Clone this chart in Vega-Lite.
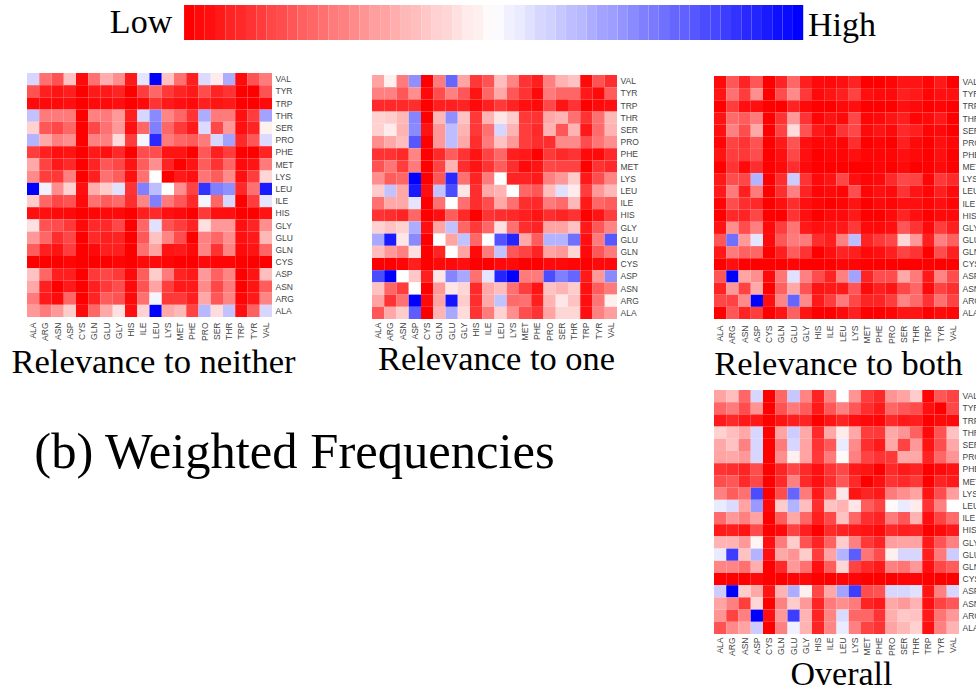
{"$schema":"https://vega.github.io/schema/vega-lite/v6.json","padding":{"left":10,"top":5,"right":0,"bottom":0},"background":"white","config":{"view":{"stroke":null},"axis":{"grid":false}},"datasets":{"a":[
{"x":"ALA","y":"VAL","v":58},{"x":"ARG","y":"VAL","v":22},{"x":"ASN","y":"VAL","v":16},{"x":"ASP","y":"VAL","v":38},{"x":"CYS","y":"VAL","v":2},{"x":"GLN","y":"VAL","v":22},{"x":"GLU","y":"VAL","v":34},{"x":"GLY","y":"VAL","v":28},{"x":"HIS","y":"VAL","v":5},{"x":"ILE","y":"VAL","v":55},{"x":"LEU","y":"VAL","v":100},{"x":"LYS","y":"VAL","v":38},{"x":"MET","y":"VAL","v":22},{"x":"PHE","y":"VAL","v":6},{"x":"PRO","y":"VAL","v":57},{"x":"SER","y":"VAL","v":46},{"x":"THR","y":"VAL","v":66},{"x":"TRP","y":"VAL","v":2},{"x":"TYR","y":"VAL","v":16},{"x":"VAL","y":"VAL","v":24},
{"x":"ALA","y":"TYR","v":16},{"x":"ARG","y":"TYR","v":6},{"x":"ASN","y":"TYR","v":4},{"x":"ASP","y":"TYR","v":6},{"x":"CYS","y":"TYR","v":0},{"x":"GLN","y":"TYR","v":5},{"x":"GLU","y":"TYR","v":5},{"x":"GLY","y":"TYR","v":7},{"x":"HIS","y":"TYR","v":0},{"x":"ILE","y":"TYR","v":12},{"x":"LEU","y":"TYR","v":20},{"x":"LYS","y":"TYR","v":11},{"x":"MET","y":"TYR","v":7},{"x":"PHE","y":"TYR","v":5},{"x":"PRO","y":"TYR","v":15},{"x":"SER","y":"TYR","v":7},{"x":"THR","y":"TYR","v":10},{"x":"TRP","y":"TYR","v":0},{"x":"TYR","y":"TYR","v":0},{"x":"VAL","y":"TYR","v":16},
{"x":"ALA","y":"TRP","v":2},{"x":"ARG","y":"TRP","v":2},{"x":"ASN","y":"TRP","v":2},{"x":"ASP","y":"TRP","v":3},{"x":"CYS","y":"TRP","v":0},{"x":"GLN","y":"TRP","v":2},{"x":"GLU","y":"TRP","v":2},{"x":"GLY","y":"TRP","v":3},{"x":"HIS","y":"TRP","v":0},{"x":"ILE","y":"TRP","v":2},{"x":"LEU","y":"TRP","v":10},{"x":"LYS","y":"TRP","v":5},{"x":"MET","y":"TRP","v":3},{"x":"PHE","y":"TRP","v":2},{"x":"PRO","y":"TRP","v":6},{"x":"SER","y":"TRP","v":4},{"x":"THR","y":"TRP","v":5},{"x":"TRP","y":"TRP","v":0},{"x":"TYR","y":"TRP","v":0},{"x":"VAL","y":"TRP","v":2},
{"x":"ALA","y":"THR","v":62},{"x":"ARG","y":"THR","v":24},{"x":"ASN","y":"THR","v":24},{"x":"ASP","y":"THR","v":24},{"x":"CYS","y":"THR","v":0},{"x":"GLN","y":"THR","v":25},{"x":"GLU","y":"THR","v":24},{"x":"GLY","y":"THR","v":30},{"x":"HIS","y":"THR","v":6},{"x":"ILE","y":"THR","v":58},{"x":"LEU","y":"THR","v":73},{"x":"LYS","y":"THR","v":26},{"x":"MET","y":"THR","v":20},{"x":"PHE","y":"THR","v":10},{"x":"PRO","y":"THR","v":66},{"x":"SER","y":"THR","v":24},{"x":"THR","y":"THR","v":24},{"x":"TRP","y":"THR","v":3},{"x":"TYR","y":"THR","v":12},{"x":"VAL","y":"THR","v":68},
{"x":"ALA","y":"SER","v":41},{"x":"ARG","y":"SER","v":17},{"x":"ASN","y":"SER","v":14},{"x":"ASP","y":"SER","v":20},{"x":"CYS","y":"SER","v":0},{"x":"GLN","y":"SER","v":14},{"x":"GLU","y":"SER","v":22},{"x":"GLY","y":"SER","v":30},{"x":"HIS","y":"SER","v":3},{"x":"ILE","y":"SER","v":20},{"x":"LEU","y":"SER","v":75},{"x":"LYS","y":"SER","v":20},{"x":"MET","y":"SER","v":11},{"x":"PHE","y":"SER","v":5},{"x":"PRO","y":"SER","v":57},{"x":"SER","y":"SER","v":14},{"x":"THR","y":"SER","v":30},{"x":"TRP","y":"SER","v":3},{"x":"TYR","y":"SER","v":7},{"x":"VAL","y":"SER","v":47},
{"x":"ALA","y":"PRO","v":65},{"x":"ARG","y":"PRO","v":33},{"x":"ASN","y":"PRO","v":25},{"x":"ASP","y":"PRO","v":28},{"x":"CYS","y":"PRO","v":0},{"x":"GLN","y":"PRO","v":25},{"x":"GLU","y":"PRO","v":25},{"x":"GLY","y":"PRO","v":43},{"x":"HIS","y":"PRO","v":12},{"x":"ILE","y":"PRO","v":52},{"x":"LEU","y":"PRO","v":92},{"x":"LYS","y":"PRO","v":24},{"x":"MET","y":"PRO","v":20},{"x":"PHE","y":"PRO","v":18},{"x":"PRO","y":"PRO","v":24},{"x":"SER","y":"PRO","v":58},{"x":"THR","y":"PRO","v":68},{"x":"TRP","y":"PRO","v":8},{"x":"TYR","y":"PRO","v":17},{"x":"VAL","y":"PRO","v":57},
{"x":"ALA","y":"PHE","v":12},{"x":"ARG","y":"PHE","v":6},{"x":"ASN","y":"PHE","v":3},{"x":"ASP","y":"PHE","v":4},{"x":"CYS","y":"PHE","v":0},{"x":"GLN","y":"PHE","v":5},{"x":"GLU","y":"PHE","v":3},{"x":"GLY","y":"PHE","v":8},{"x":"HIS","y":"PHE","v":0},{"x":"ILE","y":"PHE","v":15},{"x":"LEU","y":"PHE","v":15},{"x":"LYS","y":"PHE","v":4},{"x":"MET","y":"PHE","v":4},{"x":"PHE","y":"PHE","v":0},{"x":"PRO","y":"PHE","v":17},{"x":"SER","y":"PHE","v":6},{"x":"THR","y":"PHE","v":12},{"x":"TRP","y":"PHE","v":0},{"x":"TYR","y":"PHE","v":0},{"x":"VAL","y":"PHE","v":7},
{"x":"ALA","y":"MET","v":33},{"x":"ARG","y":"MET","v":13},{"x":"ASN","y":"MET","v":5},{"x":"ASP","y":"MET","v":8},{"x":"CYS","y":"MET","v":0},{"x":"GLN","y":"MET","v":7},{"x":"GLU","y":"MET","v":17},{"x":"GLY","y":"MET","v":14},{"x":"HIS","y":"MET","v":4},{"x":"ILE","y":"MET","v":18},{"x":"LEU","y":"MET","v":28},{"x":"LYS","y":"MET","v":7},{"x":"MET","y":"MET","v":0},{"x":"PHE","y":"MET","v":4},{"x":"PRO","y":"MET","v":18},{"x":"SER","y":"MET","v":10},{"x":"THR","y":"MET","v":20},{"x":"TRP","y":"MET","v":2},{"x":"TYR","y":"MET","v":4},{"x":"VAL","y":"MET","v":24},
{"x":"ALA","y":"LYS","v":27},{"x":"ARG","y":"LYS","v":12},{"x":"ASN","y":"LYS","v":11},{"x":"ASP","y":"LYS","v":25},{"x":"CYS","y":"LYS","v":0},{"x":"GLN","y":"LYS","v":6},{"x":"GLU","y":"LYS","v":22},{"x":"GLY","y":"LYS","v":18},{"x":"HIS","y":"LYS","v":3},{"x":"ILE","y":"LYS","v":22},{"x":"LEU","y":"LYS","v":50},{"x":"LYS","y":"LYS","v":0},{"x":"MET","y":"LYS","v":5},{"x":"PHE","y":"LYS","v":3},{"x":"PRO","y":"LYS","v":23},{"x":"SER","y":"LYS","v":18},{"x":"THR","y":"LYS","v":27},{"x":"TRP","y":"LYS","v":3},{"x":"TYR","y":"LYS","v":12},{"x":"VAL","y":"LYS","v":42},
{"x":"ALA","y":"LEU","v":100},{"x":"ARG","y":"LEU","v":53},{"x":"ASN","y":"LEU","v":28},{"x":"ASP","y":"LEU","v":41},{"x":"CYS","y":"LEU","v":3},{"x":"GLN","y":"LEU","v":34},{"x":"GLU","y":"LEU","v":40},{"x":"GLY","y":"LEU","v":56},{"x":"HIS","y":"LEU","v":10},{"x":"ILE","y":"LEU","v":75},{"x":"LEU","y":"LEU","v":63},{"x":"LYS","y":"LEU","v":50},{"x":"MET","y":"LEU","v":28},{"x":"PHE","y":"LEU","v":13},{"x":"PRO","y":"LEU","v":90},{"x":"SER","y":"LEU","v":75},{"x":"THR","y":"LEU","v":72},{"x":"TRP","y":"LEU","v":8},{"x":"TYR","y":"LEU","v":22},{"x":"VAL","y":"LEU","v":95},
{"x":"ALA","y":"ILE","v":40},{"x":"ARG","y":"ILE","v":20},{"x":"ASN","y":"ILE","v":14},{"x":"ASP","y":"ILE","v":16},{"x":"CYS","y":"ILE","v":2},{"x":"GLN","y":"ILE","v":22},{"x":"GLU","y":"ILE","v":18},{"x":"GLY","y":"ILE","v":21},{"x":"HIS","y":"ILE","v":9},{"x":"ILE","y":"ILE","v":26},{"x":"LEU","y":"ILE","v":75},{"x":"LYS","y":"ILE","v":24},{"x":"MET","y":"ILE","v":17},{"x":"PHE","y":"ILE","v":8},{"x":"PRO","y":"ILE","v":52},{"x":"SER","y":"ILE","v":20},{"x":"THR","y":"ILE","v":58},{"x":"TRP","y":"ILE","v":0},{"x":"TYR","y":"ILE","v":12},{"x":"VAL","y":"ILE","v":55},
{"x":"ALA","y":"HIS","v":3},{"x":"ARG","y":"HIS","v":3},{"x":"ASN","y":"HIS","v":2},{"x":"ASP","y":"HIS","v":2},{"x":"CYS","y":"HIS","v":0},{"x":"GLN","y":"HIS","v":1},{"x":"GLU","y":"HIS","v":2},{"x":"GLY","y":"HIS","v":2},{"x":"HIS","y":"HIS","v":0},{"x":"ILE","y":"HIS","v":6},{"x":"LEU","y":"HIS","v":8},{"x":"LYS","y":"HIS","v":3},{"x":"MET","y":"HIS","v":2},{"x":"PHE","y":"HIS","v":0},{"x":"PRO","y":"HIS","v":11},{"x":"SER","y":"HIS","v":3},{"x":"THR","y":"HIS","v":3},{"x":"TRP","y":"HIS","v":0},{"x":"TYR","y":"HIS","v":0},{"x":"VAL","y":"HIS","v":4},
{"x":"ALA","y":"GLY","v":44},{"x":"ARG","y":"GLY","v":16},{"x":"ASN","y":"GLY","v":15},{"x":"ASP","y":"GLY","v":11},{"x":"CYS","y":"GLY","v":2},{"x":"GLN","y":"GLY","v":8},{"x":"GLU","y":"GLY","v":8},{"x":"GLY","y":"GLY","v":14},{"x":"HIS","y":"GLY","v":0},{"x":"ILE","y":"GLY","v":20},{"x":"LEU","y":"GLY","v":56},{"x":"LYS","y":"GLY","v":16},{"x":"MET","y":"GLY","v":12},{"x":"PHE","y":"GLY","v":7},{"x":"PRO","y":"GLY","v":44},{"x":"SER","y":"GLY","v":30},{"x":"THR","y":"GLY","v":30},{"x":"TRP","y":"GLY","v":3},{"x":"TYR","y":"GLY","v":7},{"x":"VAL","y":"GLY","v":28},
{"x":"ALA","y":"GLU","v":30},{"x":"ARG","y":"GLU","v":20},{"x":"ASN","y":"GLU","v":9},{"x":"ASP","y":"GLU","v":14},{"x":"CYS","y":"GLU","v":0},{"x":"GLN","y":"GLU","v":8},{"x":"GLU","y":"GLU","v":6},{"x":"GLY","y":"GLU","v":7},{"x":"HIS","y":"GLU","v":0},{"x":"ILE","y":"GLU","v":17},{"x":"LEU","y":"GLU","v":38},{"x":"LYS","y":"GLU","v":26},{"x":"MET","y":"GLU","v":15},{"x":"PHE","y":"GLU","v":0},{"x":"PRO","y":"GLU","v":25},{"x":"SER","y":"GLU","v":20},{"x":"THR","y":"GLU","v":28},{"x":"TRP","y":"GLU","v":3},{"x":"TYR","y":"GLU","v":5},{"x":"VAL","y":"GLU","v":36},
{"x":"ALA","y":"GLN","v":18},{"x":"ARG","y":"GLN","v":6},{"x":"ASN","y":"GLN","v":4},{"x":"ASP","y":"GLN","v":12},{"x":"CYS","y":"GLN","v":0},{"x":"GLN","y":"GLN","v":2},{"x":"GLU","y":"GLN","v":6},{"x":"GLY","y":"GLN","v":6},{"x":"HIS","y":"GLN","v":0},{"x":"ILE","y":"GLN","v":22},{"x":"LEU","y":"GLN","v":32},{"x":"LYS","y":"GLN","v":4},{"x":"MET","y":"GLN","v":5},{"x":"PHE","y":"GLN","v":2},{"x":"PRO","y":"GLN","v":26},{"x":"SER","y":"GLN","v":10},{"x":"THR","y":"GLN","v":26},{"x":"TRP","y":"GLN","v":2},{"x":"TYR","y":"GLN","v":4},{"x":"VAL","y":"GLN","v":20},
{"x":"ALA","y":"CYS","v":0},{"x":"ARG","y":"CYS","v":0},{"x":"ASN","y":"CYS","v":0},{"x":"ASP","y":"CYS","v":1},{"x":"CYS","y":"CYS","v":0},{"x":"GLN","y":"CYS","v":0},{"x":"GLU","y":"CYS","v":0},{"x":"GLY","y":"CYS","v":1},{"x":"HIS","y":"CYS","v":0},{"x":"ILE","y":"CYS","v":2},{"x":"LEU","y":"CYS","v":2},{"x":"LYS","y":"CYS","v":1},{"x":"MET","y":"CYS","v":0},{"x":"PHE","y":"CYS","v":0},{"x":"PRO","y":"CYS","v":2},{"x":"SER","y":"CYS","v":1},{"x":"THR","y":"CYS","v":1},{"x":"TRP","y":"CYS","v":0},{"x":"TYR","y":"CYS","v":0},{"x":"VAL","y":"CYS","v":0},
{"x":"ALA","y":"ASP","v":38},{"x":"ARG","y":"ASP","v":20},{"x":"ASN","y":"ASP","v":6},{"x":"ASP","y":"ASP","v":6},{"x":"CYS","y":"ASP","v":0},{"x":"GLN","y":"ASP","v":11},{"x":"GLU","y":"ASP","v":14},{"x":"GLY","y":"ASP","v":11},{"x":"HIS","y":"ASP","v":2},{"x":"ILE","y":"ASP","v":18},{"x":"LEU","y":"ASP","v":40},{"x":"LYS","y":"ASP","v":24},{"x":"MET","y":"ASP","v":7},{"x":"PHE","y":"ASP","v":5},{"x":"PRO","y":"ASP","v":30},{"x":"SER","y":"ASP","v":19},{"x":"THR","y":"ASP","v":26},{"x":"TRP","y":"ASP","v":0},{"x":"TYR","y":"ASP","v":4},{"x":"VAL","y":"ASP","v":37},
{"x":"ALA","y":"ASN","v":33},{"x":"ARG","y":"ASN","v":6},{"x":"ASN","y":"ASN","v":0},{"x":"ASP","y":"ASN","v":5},{"x":"CYS","y":"ASN","v":0},{"x":"GLN","y":"ASN","v":6},{"x":"GLU","y":"ASN","v":11},{"x":"GLY","y":"ASN","v":15},{"x":"HIS","y":"ASN","v":2},{"x":"ILE","y":"ASN","v":16},{"x":"LEU","y":"ASN","v":32},{"x":"LYS","y":"ASN","v":12},{"x":"MET","y":"ASN","v":5},{"x":"PHE","y":"ASN","v":5},{"x":"PRO","y":"ASN","v":27},{"x":"SER","y":"ASN","v":14},{"x":"THR","y":"ASN","v":24},{"x":"TRP","y":"ASN","v":0},{"x":"TYR","y":"ASN","v":4},{"x":"VAL","y":"ASN","v":18},
{"x":"ALA","y":"ARG","v":24},{"x":"ARG","y":"ARG","v":5},{"x":"ASN","y":"ARG","v":2},{"x":"ASP","y":"ARG","v":20},{"x":"CYS","y":"ARG","v":0},{"x":"GLN","y":"ARG","v":7},{"x":"GLU","y":"ARG","v":18},{"x":"GLY","y":"ARG","v":16},{"x":"HIS","y":"ARG","v":2},{"x":"ILE","y":"ARG","v":22},{"x":"LEU","y":"ARG","v":52},{"x":"LYS","y":"ARG","v":11},{"x":"MET","y":"ARG","v":11},{"x":"PHE","y":"ARG","v":6},{"x":"PRO","y":"ARG","v":33},{"x":"SER","y":"ARG","v":17},{"x":"THR","y":"ARG","v":26},{"x":"TRP","y":"ARG","v":1},{"x":"TYR","y":"ARG","v":5},{"x":"VAL","y":"ARG","v":26},
{"x":"ALA","y":"ALA","v":30},{"x":"ARG","y":"ALA","v":24},{"x":"ASN","y":"ALA","v":30},{"x":"ASP","y":"ALA","v":40},{"x":"CYS","y":"ALA","v":2},{"x":"GLN","y":"ALA","v":20},{"x":"GLU","y":"ALA","v":33},{"x":"GLY","y":"ALA","v":44},{"x":"HIS","y":"ALA","v":3},{"x":"ILE","y":"ALA","v":41},{"x":"LEU","y":"ALA","v":100},{"x":"LYS","y":"ALA","v":33},{"x":"MET","y":"ALA","v":36},{"x":"PHE","y":"ALA","v":13},{"x":"PRO","y":"ALA","v":64},{"x":"SER","y":"ALA","v":43},{"x":"THR","y":"ALA","v":62},{"x":"TRP","y":"ALA","v":3},{"x":"TYR","y":"ALA","v":19},{"x":"VAL","y":"ALA","v":58}
],"b":[
{"x":"ALA","y":"VAL","v":32},{"x":"ARG","y":"VAL","v":47},{"x":"ASN","y":"VAL","v":24},{"x":"ASP","y":"VAL","v":72},{"x":"CYS","y":"VAL","v":0},{"x":"GLN","y":"VAL","v":24},{"x":"GLU","y":"VAL","v":80},{"x":"GLY","y":"VAL","v":32},{"x":"HIS","y":"VAL","v":11},{"x":"ILE","y":"VAL","v":16},{"x":"LEU","y":"VAL","v":37},{"x":"LYS","y":"VAL","v":26},{"x":"MET","y":"VAL","v":10},{"x":"PHE","y":"VAL","v":6},{"x":"PRO","y":"VAL","v":25},{"x":"SER","y":"VAL","v":35},{"x":"THR","y":"VAL","v":38},{"x":"TRP","y":"VAL","v":2},{"x":"TYR","y":"VAL","v":16},{"x":"VAL","y":"VAL","v":9},
{"x":"ALA","y":"TYR","v":25},{"x":"ARG","y":"TYR","v":25},{"x":"ASN","y":"TYR","v":17},{"x":"ASP","y":"TYR","v":28},{"x":"CYS","y":"TYR","v":2},{"x":"GLN","y":"TYR","v":15},{"x":"GLU","y":"TYR","v":25},{"x":"GLY","y":"TYR","v":17},{"x":"HIS","y":"TYR","v":4},{"x":"ILE","y":"TYR","v":20},{"x":"LEU","y":"TYR","v":33},{"x":"LYS","y":"TYR","v":17},{"x":"MET","y":"TYR","v":10},{"x":"PHE","y":"TYR","v":2},{"x":"PRO","y":"TYR","v":24},{"x":"SER","y":"TYR","v":20},{"x":"THR","y":"TYR","v":20},{"x":"TRP","y":"TYR","v":5},{"x":"TYR","y":"TYR","v":2},{"x":"VAL","y":"TYR","v":18},
{"x":"ALA","y":"TRP","v":8},{"x":"ARG","y":"TRP","v":8},{"x":"ASN","y":"TRP","v":8},{"x":"ASP","y":"TRP","v":9},{"x":"CYS","y":"TRP","v":0},{"x":"GLN","y":"TRP","v":6},{"x":"GLU","y":"TRP","v":6},{"x":"GLY","y":"TRP","v":7},{"x":"HIS","y":"TRP","v":2},{"x":"ILE","y":"TRP","v":6},{"x":"LEU","y":"TRP","v":11},{"x":"LYS","y":"TRP","v":7},{"x":"MET","y":"TRP","v":3},{"x":"PHE","y":"TRP","v":2},{"x":"PRO","y":"TRP","v":14},{"x":"SER","y":"TRP","v":4},{"x":"THR","y":"TRP","v":10},{"x":"TRP","y":"TRP","v":0},{"x":"TYR","y":"TRP","v":2},{"x":"VAL","y":"TRP","v":3},
{"x":"ALA","y":"THR","v":41},{"x":"ARG","y":"THR","v":40},{"x":"ASN","y":"THR","v":36},{"x":"ASP","y":"THR","v":74},{"x":"CYS","y":"THR","v":0},{"x":"GLN","y":"THR","v":36},{"x":"GLU","y":"THR","v":72},{"x":"GLY","y":"THR","v":38},{"x":"HIS","y":"THR","v":11},{"x":"ILE","y":"THR","v":35},{"x":"LEU","y":"THR","v":45},{"x":"LYS","y":"THR","v":40},{"x":"MET","y":"THR","v":11},{"x":"PHE","y":"THR","v":10},{"x":"PRO","y":"THR","v":33},{"x":"SER","y":"THR","v":35},{"x":"THR","y":"THR","v":22},{"x":"TRP","y":"THR","v":10},{"x":"TYR","y":"THR","v":22},{"x":"VAL","y":"THR","v":36},
{"x":"ALA","y":"SER","v":41},{"x":"ARG","y":"SER","v":46},{"x":"ASN","y":"SER","v":35},{"x":"ASP","y":"SER","v":73},{"x":"CYS","y":"SER","v":4},{"x":"GLN","y":"SER","v":30},{"x":"GLU","y":"SER","v":63},{"x":"GLY","y":"SER","v":35},{"x":"HIS","y":"SER","v":11},{"x":"ILE","y":"SER","v":22},{"x":"LEU","y":"SER","v":58},{"x":"LYS","y":"SER","v":35},{"x":"MET","y":"SER","v":12},{"x":"PHE","y":"SER","v":8},{"x":"PRO","y":"SER","v":35},{"x":"SER","y":"SER","v":17},{"x":"THR","y":"SER","v":35},{"x":"TRP","y":"SER","v":5},{"x":"TYR","y":"SER","v":21},{"x":"VAL","y":"SER","v":35},
{"x":"ALA","y":"PRO","v":28},{"x":"ARG","y":"PRO","v":33},{"x":"ASN","y":"PRO","v":37},{"x":"ASP","y":"PRO","v":83},{"x":"CYS","y":"PRO","v":0},{"x":"GLN","y":"PRO","v":30},{"x":"GLU","y":"PRO","v":63},{"x":"GLY","y":"PRO","v":33},{"x":"HIS","y":"PRO","v":9},{"x":"ILE","y":"PRO","v":24},{"x":"LEU","y":"PRO","v":38},{"x":"LYS","y":"PRO","v":30},{"x":"MET","y":"PRO","v":12},{"x":"PHE","y":"PRO","v":9},{"x":"PRO","y":"PRO","v":9},{"x":"SER","y":"PRO","v":27},{"x":"THR","y":"PRO","v":27},{"x":"TRP","y":"PRO","v":15},{"x":"TYR","y":"PRO","v":23},{"x":"VAL","y":"PRO","v":28},
{"x":"ALA","y":"PHE","v":10},{"x":"ARG","y":"PHE","v":10},{"x":"ASN","y":"PHE","v":8},{"x":"ASP","y":"PHE","v":26},{"x":"CYS","y":"PHE","v":0},{"x":"GLN","y":"PHE","v":8},{"x":"GLU","y":"PHE","v":18},{"x":"GLY","y":"PHE","v":10},{"x":"HIS","y":"PHE","v":4},{"x":"ILE","y":"PHE","v":13},{"x":"LEU","y":"PHE","v":20},{"x":"LYS","y":"PHE","v":6},{"x":"MET","y":"PHE","v":5},{"x":"PHE","y":"PHE","v":0},{"x":"PRO","y":"PHE","v":11},{"x":"SER","y":"PHE","v":8},{"x":"THR","y":"PHE","v":10},{"x":"TRP","y":"PHE","v":2},{"x":"TYR","y":"PHE","v":2},{"x":"VAL","y":"PHE","v":8},
{"x":"ALA","y":"MET","v":16},{"x":"ARG","y":"MET","v":23},{"x":"ASN","y":"MET","v":12},{"x":"ASP","y":"MET","v":24},{"x":"CYS","y":"MET","v":0},{"x":"GLN","y":"MET","v":13},{"x":"GLU","y":"MET","v":35},{"x":"GLY","y":"MET","v":9},{"x":"HIS","y":"MET","v":4},{"x":"ILE","y":"MET","v":10},{"x":"LEU","y":"MET","v":18},{"x":"LYS","y":"MET","v":9},{"x":"MET","y":"MET","v":2},{"x":"PHE","y":"MET","v":4},{"x":"PRO","y":"MET","v":14},{"x":"SER","y":"MET","v":13},{"x":"THR","y":"MET","v":13},{"x":"TRP","y":"MET","v":0},{"x":"TYR","y":"MET","v":10},{"x":"VAL","y":"MET","v":8},
{"x":"ALA","y":"LYS","v":28},{"x":"ARG","y":"LYS","v":18},{"x":"ASN","y":"LYS","v":20},{"x":"ASP","y":"LYS","v":100},{"x":"CYS","y":"LYS","v":0},{"x":"GLN","y":"LYS","v":17},{"x":"GLU","y":"LYS","v":92},{"x":"GLY","y":"LYS","v":22},{"x":"HIS","y":"LYS","v":7},{"x":"ILE","y":"LYS","v":24},{"x":"LEU","y":"LYS","v":50},{"x":"LYS","y":"LYS","v":7},{"x":"MET","y":"LYS","v":7},{"x":"PHE","y":"LYS","v":5},{"x":"PRO","y":"LYS","v":25},{"x":"SER","y":"LYS","v":30},{"x":"THR","y":"LYS","v":40},{"x":"TRP","y":"LYS","v":5},{"x":"TYR","y":"LYS","v":15},{"x":"VAL","y":"LYS","v":26},
{"x":"ALA","y":"LEU","v":40},{"x":"ARG","y":"LEU","v":62},{"x":"ASN","y":"LEU","v":33},{"x":"ASP","y":"LEU","v":95},{"x":"CYS","y":"LEU","v":3},{"x":"GLN","y":"LEU","v":62},{"x":"GLU","y":"LEU","v":85},{"x":"GLY","y":"LEU","v":45},{"x":"HIS","y":"LEU","v":9},{"x":"ILE","y":"LEU","v":33},{"x":"LEU","y":"LEU","v":35},{"x":"LYS","y":"LEU","v":50},{"x":"MET","y":"LEU","v":20},{"x":"PHE","y":"LEU","v":17},{"x":"PRO","y":"LEU","v":37},{"x":"SER","y":"LEU","v":56},{"x":"THR","y":"LEU","v":46},{"x":"TRP","y":"LEU","v":12},{"x":"TYR","y":"LEU","v":30},{"x":"VAL","y":"LEU","v":36},
{"x":"ALA","y":"ILE","v":22},{"x":"ARG","y":"ILE","v":33},{"x":"ASN","y":"ILE","v":33},{"x":"ASP","y":"ILE","v":55},{"x":"CYS","y":"ILE","v":0},{"x":"GLN","y":"ILE","v":22},{"x":"GLU","y":"ILE","v":50},{"x":"GLY","y":"ILE","v":22},{"x":"HIS","y":"ILE","v":9},{"x":"ILE","y":"ILE","v":15},{"x":"LEU","y":"ILE","v":33},{"x":"LYS","y":"ILE","v":22},{"x":"MET","y":"ILE","v":9},{"x":"PHE","y":"ILE","v":8},{"x":"PRO","y":"ILE","v":24},{"x":"SER","y":"ILE","v":21},{"x":"THR","y":"ILE","v":36},{"x":"TRP","y":"ILE","v":5},{"x":"TYR","y":"ILE","v":20},{"x":"VAL","y":"ILE","v":18},
{"x":"ALA","y":"HIS","v":10},{"x":"ARG","y":"HIS","v":9},{"x":"ASN","y":"HIS","v":7},{"x":"ASP","y":"HIS","v":20},{"x":"CYS","y":"HIS","v":0},{"x":"GLN","y":"HIS","v":3},{"x":"GLU","y":"HIS","v":18},{"x":"GLY","y":"HIS","v":8},{"x":"HIS","y":"HIS","v":0},{"x":"ILE","y":"HIS","v":10},{"x":"LEU","y":"HIS","v":9},{"x":"LYS","y":"HIS","v":8},{"x":"MET","y":"HIS","v":6},{"x":"PHE","y":"HIS","v":4},{"x":"PRO","y":"HIS","v":9},{"x":"SER","y":"HIS","v":7},{"x":"THR","y":"HIS","v":10},{"x":"TRP","y":"HIS","v":0},{"x":"TYR","y":"HIS","v":4},{"x":"VAL","y":"HIS","v":12},
{"x":"ALA","y":"GLY","v":41},{"x":"ARG","y":"GLY","v":38},{"x":"ASN","y":"GLY","v":41},{"x":"ASP","y":"GLY","v":66},{"x":"CYS","y":"GLY","v":3},{"x":"GLN","y":"GLY","v":32},{"x":"GLU","y":"GLY","v":62},{"x":"GLY","y":"GLY","v":20},{"x":"HIS","y":"GLY","v":11},{"x":"ILE","y":"GLY","v":20},{"x":"LEU","y":"GLY","v":44},{"x":"LYS","y":"GLY","v":22},{"x":"MET","y":"GLY","v":9},{"x":"PHE","y":"GLY","v":7},{"x":"PRO","y":"GLY","v":32},{"x":"SER","y":"GLY","v":32},{"x":"THR","y":"GLY","v":38},{"x":"TRP","y":"GLY","v":5},{"x":"TYR","y":"GLY","v":17},{"x":"VAL","y":"GLY","v":26},
{"x":"ALA","y":"GLU","v":67},{"x":"ARG","y":"GLU","v":95},{"x":"ASN","y":"GLU","v":45},{"x":"ASP","y":"GLU","v":73},{"x":"CYS","y":"GLU","v":0},{"x":"GLN","y":"GLU","v":50},{"x":"GLU","y":"GLU","v":32},{"x":"GLY","y":"GLU","v":62},{"x":"HIS","y":"GLU","v":20},{"x":"ILE","y":"GLU","v":50},{"x":"LEU","y":"GLU","v":84},{"x":"LYS","y":"GLU","v":93},{"x":"MET","y":"GLU","v":33},{"x":"PHE","y":"GLU","v":18},{"x":"PRO","y":"GLU","v":65},{"x":"SER","y":"GLU","v":65},{"x":"THR","y":"GLU","v":78},{"x":"TRP","y":"GLU","v":3},{"x":"TYR","y":"GLU","v":24},{"x":"VAL","y":"GLU","v":83},
{"x":"ALA","y":"GLN","v":37},{"x":"ARG","y":"GLN","v":30},{"x":"ASN","y":"GLN","v":25},{"x":"ASP","y":"GLN","v":44},{"x":"CYS","y":"GLN","v":0},{"x":"GLN","y":"GLN","v":7},{"x":"GLU","y":"GLN","v":50},{"x":"GLY","y":"GLN","v":32},{"x":"HIS","y":"GLN","v":2},{"x":"ILE","y":"GLN","v":24},{"x":"LEU","y":"GLN","v":62},{"x":"LYS","y":"GLN","v":17},{"x":"MET","y":"GLN","v":13},{"x":"PHE","y":"GLN","v":7},{"x":"PRO","y":"GLN","v":32},{"x":"SER","y":"GLN","v":30},{"x":"THR","y":"GLN","v":42},{"x":"TRP","y":"GLN","v":2},{"x":"TYR","y":"GLN","v":17},{"x":"VAL","y":"GLN","v":24},
{"x":"ALA","y":"CYS","v":0},{"x":"ARG","y":"CYS","v":0},{"x":"ASN","y":"CYS","v":1},{"x":"ASP","y":"CYS","v":6},{"x":"CYS","y":"CYS","v":0},{"x":"GLN","y":"CYS","v":2},{"x":"GLU","y":"CYS","v":2},{"x":"GLY","y":"CYS","v":3},{"x":"HIS","y":"CYS","v":0},{"x":"ILE","y":"CYS","v":0},{"x":"LEU","y":"CYS","v":2},{"x":"LYS","y":"CYS","v":2},{"x":"MET","y":"CYS","v":0},{"x":"PHE","y":"CYS","v":0},{"x":"PRO","y":"CYS","v":2},{"x":"SER","y":"CYS","v":2},{"x":"THR","y":"CYS","v":1},{"x":"TRP","y":"CYS","v":0},{"x":"TYR","y":"CYS","v":2},{"x":"VAL","y":"CYS","v":2},
{"x":"ALA","y":"ASP","v":85},{"x":"ARG","y":"ASP","v":100},{"x":"ASN","y":"ASP","v":50},{"x":"ASP","y":"ASP","v":39},{"x":"CYS","y":"ASP","v":6},{"x":"GLN","y":"ASP","v":45},{"x":"GLU","y":"ASP","v":74},{"x":"GLY","y":"ASP","v":67},{"x":"HIS","y":"ASP","v":22},{"x":"ILE","y":"ASP","v":55},{"x":"LEU","y":"ASP","v":93},{"x":"LYS","y":"ASP","v":100},{"x":"MET","y":"ASP","v":24},{"x":"PHE","y":"ASP","v":24},{"x":"PRO","y":"ASP","v":85},{"x":"SER","y":"ASP","v":75},{"x":"THR","y":"ASP","v":80},{"x":"TRP","y":"ASP","v":5},{"x":"TYR","y":"ASP","v":30},{"x":"VAL","y":"ASP","v":73},
{"x":"ALA","y":"ASN","v":38},{"x":"ARG","y":"ASN","v":20},{"x":"ASN","y":"ASN","v":12},{"x":"ASP","y":"ASN","v":50},{"x":"CYS","y":"ASN","v":0},{"x":"GLN","y":"ASN","v":30},{"x":"GLU","y":"ASN","v":45},{"x":"GLY","y":"ASN","v":42},{"x":"HIS","y":"ASN","v":8},{"x":"ILE","y":"ASN","v":33},{"x":"LEU","y":"ASN","v":37},{"x":"LYS","y":"ASN","v":22},{"x":"MET","y":"ASN","v":12},{"x":"PHE","y":"ASN","v":4},{"x":"PRO","y":"ASN","v":38},{"x":"SER","y":"ASN","v":35},{"x":"THR","y":"ASN","v":40},{"x":"TRP","y":"ASN","v":3},{"x":"TYR","y":"ASN","v":18},{"x":"VAL","y":"ASN","v":24},
{"x":"ALA","y":"ARG","v":32},{"x":"ARG","y":"ARG","v":10},{"x":"ASN","y":"ARG","v":22},{"x":"ASP","y":"ARG","v":100},{"x":"CYS","y":"ARG","v":2},{"x":"GLN","y":"ARG","v":32},{"x":"GLU","y":"ARG","v":96},{"x":"GLY","y":"ARG","v":40},{"x":"HIS","y":"ARG","v":9},{"x":"ILE","y":"ARG","v":33},{"x":"LEU","y":"ARG","v":62},{"x":"LYS","y":"ARG","v":21},{"x":"MET","y":"ARG","v":22},{"x":"PHE","y":"ARG","v":6},{"x":"PRO","y":"ARG","v":35},{"x":"SER","y":"ARG","v":45},{"x":"THR","y":"ARG","v":38},{"x":"TRP","y":"ARG","v":3},{"x":"TYR","y":"ARG","v":23},{"x":"VAL","y":"ARG","v":47},
{"x":"ALA","y":"ALA","v":17},{"x":"ARG","y":"ALA","v":33},{"x":"ASN","y":"ALA","v":40},{"x":"ASP","y":"ALA","v":82},{"x":"CYS","y":"ALA","v":0},{"x":"GLN","y":"ALA","v":35},{"x":"GLU","y":"ALA","v":67},{"x":"GLY","y":"ALA","v":43},{"x":"HIS","y":"ALA","v":10},{"x":"ILE","y":"ALA","v":24},{"x":"LEU","y":"ALA","v":41},{"x":"LYS","y":"ALA","v":28},{"x":"MET","y":"ALA","v":15},{"x":"PHE","y":"ALA","v":10},{"x":"PRO","y":"ALA","v":32},{"x":"SER","y":"ALA","v":42},{"x":"THR","y":"ALA","v":42},{"x":"TRP","y":"ALA","v":3},{"x":"TYR","y":"ALA","v":25},{"x":"VAL","y":"ALA","v":31}
],"c":[
{"x":"ALA","y":"VAL","v":2},{"x":"ARG","y":"VAL","v":17},{"x":"ASN","y":"VAL","v":7},{"x":"ASP","y":"VAL","v":17},{"x":"CYS","y":"VAL","v":0},{"x":"GLN","y":"VAL","v":7},{"x":"GLU","y":"VAL","v":20},{"x":"GLY","y":"VAL","v":6},{"x":"HIS","y":"VAL","v":2},{"x":"ILE","y":"VAL","v":2},{"x":"LEU","y":"VAL","v":3},{"x":"LYS","y":"VAL","v":7},{"x":"MET","y":"VAL","v":0},{"x":"PHE","y":"VAL","v":0},{"x":"PRO","y":"VAL","v":1},{"x":"SER","y":"VAL","v":4},{"x":"THR","y":"VAL","v":4},{"x":"TRP","y":"VAL","v":1},{"x":"TYR","y":"VAL","v":5},{"x":"VAL","y":"VAL","v":0},
{"x":"ALA","y":"TYR","v":4},{"x":"ARG","y":"TYR","v":22},{"x":"ASN","y":"TYR","v":12},{"x":"ASP","y":"TYR","v":28},{"x":"CYS","y":"TYR","v":0},{"x":"GLN","y":"TYR","v":15},{"x":"GLU","y":"TYR","v":27},{"x":"GLY","y":"TYR","v":11},{"x":"HIS","y":"TYR","v":2},{"x":"ILE","y":"TYR","v":4},{"x":"LEU","y":"TYR","v":6},{"x":"LYS","y":"TYR","v":13},{"x":"MET","y":"TYR","v":3},{"x":"PHE","y":"TYR","v":2},{"x":"PRO","y":"TYR","v":2},{"x":"SER","y":"TYR","v":6},{"x":"THR","y":"TYR","v":5},{"x":"TRP","y":"TYR","v":1},{"x":"TYR","y":"TYR","v":3},{"x":"VAL","y":"TYR","v":3},
{"x":"ALA","y":"TRP","v":0},{"x":"ARG","y":"TRP","v":12},{"x":"ASN","y":"TRP","v":3},{"x":"ASP","y":"TRP","v":3},{"x":"CYS","y":"TRP","v":0},{"x":"GLN","y":"TRP","v":0},{"x":"GLU","y":"TRP","v":7},{"x":"GLY","y":"TRP","v":2},{"x":"HIS","y":"TRP","v":0},{"x":"ILE","y":"TRP","v":0},{"x":"LEU","y":"TRP","v":2},{"x":"LYS","y":"TRP","v":3},{"x":"MET","y":"TRP","v":0},{"x":"PHE","y":"TRP","v":0},{"x":"PRO","y":"TRP","v":0},{"x":"SER","y":"TRP","v":3},{"x":"THR","y":"TRP","v":2},{"x":"TRP","y":"TRP","v":0},{"x":"TYR","y":"TRP","v":1},{"x":"VAL","y":"TRP","v":0},
{"x":"ALA","y":"THR","v":4},{"x":"ARG","y":"THR","v":21},{"x":"ASN","y":"THR","v":18},{"x":"ASP","y":"THR","v":24},{"x":"CYS","y":"THR","v":0},{"x":"GLN","y":"THR","v":10},{"x":"GLU","y":"THR","v":30},{"x":"GLY","y":"THR","v":10},{"x":"HIS","y":"THR","v":1},{"x":"ILE","y":"THR","v":4},{"x":"LEU","y":"THR","v":2},{"x":"LYS","y":"THR","v":14},{"x":"MET","y":"THR","v":1},{"x":"PHE","y":"THR","v":2},{"x":"PRO","y":"THR","v":4},{"x":"SER","y":"THR","v":6},{"x":"THR","y":"THR","v":1},{"x":"TRP","y":"THR","v":2},{"x":"TYR","y":"THR","v":5},{"x":"VAL","y":"THR","v":0},
{"x":"ALA","y":"SER","v":3},{"x":"ARG","y":"SER","v":25},{"x":"ASN","y":"SER","v":15},{"x":"ASP","y":"SER","v":33},{"x":"CYS","y":"SER","v":0},{"x":"GLN","y":"SER","v":13},{"x":"GLU","y":"SER","v":43},{"x":"GLY","y":"SER","v":16},{"x":"HIS","y":"SER","v":5},{"x":"ILE","y":"SER","v":2},{"x":"LEU","y":"SER","v":10},{"x":"LYS","y":"SER","v":14},{"x":"MET","y":"SER","v":2},{"x":"PHE","y":"SER","v":4},{"x":"PRO","y":"SER","v":2},{"x":"SER","y":"SER","v":8},{"x":"THR","y":"SER","v":6},{"x":"TRP","y":"SER","v":1},{"x":"TYR","y":"SER","v":2},{"x":"VAL","y":"SER","v":0},
{"x":"ALA","y":"PRO","v":1},{"x":"ARG","y":"PRO","v":13},{"x":"ASN","y":"PRO","v":10},{"x":"ASP","y":"PRO","v":16},{"x":"CYS","y":"PRO","v":0},{"x":"GLN","y":"PRO","v":5},{"x":"GLU","y":"PRO","v":16},{"x":"GLY","y":"PRO","v":3},{"x":"HIS","y":"PRO","v":1},{"x":"ILE","y":"PRO","v":2},{"x":"LEU","y":"PRO","v":1},{"x":"LYS","y":"PRO","v":9},{"x":"MET","y":"PRO","v":0},{"x":"PHE","y":"PRO","v":1},{"x":"PRO","y":"PRO","v":0},{"x":"SER","y":"PRO","v":6},{"x":"THR","y":"PRO","v":2},{"x":"TRP","y":"PRO","v":0},{"x":"TYR","y":"PRO","v":3},{"x":"VAL","y":"PRO","v":1},
{"x":"ALA","y":"PHE","v":4},{"x":"ARG","y":"PHE","v":12},{"x":"ASN","y":"PHE","v":11},{"x":"ASP","y":"PHE","v":15},{"x":"CYS","y":"PHE","v":0},{"x":"GLN","y":"PHE","v":3},{"x":"GLU","y":"PHE","v":14},{"x":"GLY","y":"PHE","v":3},{"x":"HIS","y":"PHE","v":0},{"x":"ILE","y":"PHE","v":1},{"x":"LEU","y":"PHE","v":1},{"x":"LYS","y":"PHE","v":3},{"x":"MET","y":"PHE","v":1},{"x":"PHE","y":"PHE","v":1},{"x":"PRO","y":"PHE","v":1},{"x":"SER","y":"PHE","v":3},{"x":"THR","y":"PHE","v":2},{"x":"TRP","y":"PHE","v":0},{"x":"TYR","y":"PHE","v":3},{"x":"VAL","y":"PHE","v":0},
{"x":"ALA","y":"MET","v":0},{"x":"ARG","y":"MET","v":10},{"x":"ASN","y":"MET","v":2},{"x":"ASP","y":"MET","v":9},{"x":"CYS","y":"MET","v":0},{"x":"GLN","y":"MET","v":2},{"x":"GLU","y":"MET","v":9},{"x":"GLY","y":"MET","v":2},{"x":"HIS","y":"MET","v":0},{"x":"ILE","y":"MET","v":0},{"x":"LEU","y":"MET","v":0},{"x":"LYS","y":"MET","v":0},{"x":"MET","y":"MET","v":0},{"x":"PHE","y":"MET","v":1},{"x":"PRO","y":"MET","v":0},{"x":"SER","y":"MET","v":2},{"x":"THR","y":"MET","v":0},{"x":"TRP","y":"MET","v":0},{"x":"TYR","y":"MET","v":2},{"x":"VAL","y":"MET","v":0},
{"x":"ALA","y":"LYS","v":5},{"x":"ARG","y":"LYS","v":15},{"x":"ASN","y":"LYS","v":14},{"x":"ASP","y":"LYS","v":65},{"x":"CYS","y":"LYS","v":0},{"x":"GLN","y":"LYS","v":9},{"x":"GLU","y":"LYS","v":60},{"x":"GLY","y":"LYS","v":10},{"x":"HIS","y":"LYS","v":2},{"x":"ILE","y":"LYS","v":4},{"x":"LEU","y":"LYS","v":14},{"x":"LYS","y":"LYS","v":3},{"x":"MET","y":"LYS","v":1},{"x":"PHE","y":"LYS","v":2},{"x":"PRO","y":"LYS","v":8},{"x":"SER","y":"LYS","v":14},{"x":"THR","y":"LYS","v":13},{"x":"TRP","y":"LYS","v":1},{"x":"TYR","y":"LYS","v":11},{"x":"VAL","y":"LYS","v":8},
{"x":"ALA","y":"LEU","v":5},{"x":"ARG","y":"LEU","v":24},{"x":"ASN","y":"LEU","v":6},{"x":"ASP","y":"LEU","v":24},{"x":"CYS","y":"LEU","v":0},{"x":"GLN","y":"LEU","v":9},{"x":"GLU","y":"LEU","v":25},{"x":"GLY","y":"LEU","v":7},{"x":"HIS","y":"LEU","v":1},{"x":"ILE","y":"LEU","v":2},{"x":"LEU","y":"LEU","v":1},{"x":"LYS","y":"LEU","v":15},{"x":"MET","y":"LEU","v":1},{"x":"PHE","y":"LEU","v":3},{"x":"PRO","y":"LEU","v":2},{"x":"SER","y":"LEU","v":10},{"x":"THR","y":"LEU","v":4},{"x":"TRP","y":"LEU","v":1},{"x":"TYR","y":"LEU","v":6},{"x":"VAL","y":"LEU","v":2},
{"x":"ALA","y":"ILE","v":1},{"x":"ARG","y":"ILE","v":15},{"x":"ASN","y":"ILE","v":9},{"x":"ASP","y":"ILE","v":8},{"x":"CYS","y":"ILE","v":0},{"x":"GLN","y":"ILE","v":3},{"x":"GLU","y":"ILE","v":9},{"x":"GLY","y":"ILE","v":3},{"x":"HIS","y":"ILE","v":1},{"x":"ILE","y":"ILE","v":0},{"x":"LEU","y":"ILE","v":1},{"x":"LYS","y":"ILE","v":4},{"x":"MET","y":"ILE","v":0},{"x":"PHE","y":"ILE","v":2},{"x":"PRO","y":"ILE","v":1},{"x":"SER","y":"ILE","v":3},{"x":"THR","y":"ILE","v":3},{"x":"TRP","y":"ILE","v":1},{"x":"TYR","y":"ILE","v":3},{"x":"VAL","y":"ILE","v":1},
{"x":"ALA","y":"HIS","v":0},{"x":"ARG","y":"HIS","v":8},{"x":"ASN","y":"HIS","v":7},{"x":"ASP","y":"HIS","v":14},{"x":"CYS","y":"HIS","v":0},{"x":"GLN","y":"HIS","v":0},{"x":"GLU","y":"HIS","v":10},{"x":"GLY","y":"HIS","v":3},{"x":"HIS","y":"HIS","v":0},{"x":"ILE","y":"HIS","v":2},{"x":"LEU","y":"HIS","v":2},{"x":"LYS","y":"HIS","v":5},{"x":"MET","y":"HIS","v":0},{"x":"PHE","y":"HIS","v":0},{"x":"PRO","y":"HIS","v":2},{"x":"SER","y":"HIS","v":7},{"x":"THR","y":"HIS","v":3},{"x":"TRP","y":"HIS","v":0},{"x":"TYR","y":"HIS","v":2},{"x":"VAL","y":"HIS","v":2},
{"x":"ALA","y":"GLY","v":4},{"x":"ARG","y":"GLY","v":28},{"x":"ASN","y":"GLY","v":15},{"x":"ASP","y":"GLY","v":25},{"x":"CYS","y":"GLY","v":2},{"x":"GLN","y":"GLY","v":12},{"x":"GLU","y":"GLY","v":23},{"x":"GLY","y":"GLY","v":5},{"x":"HIS","y":"GLY","v":3},{"x":"ILE","y":"GLY","v":4},{"x":"LEU","y":"GLY","v":5},{"x":"LYS","y":"GLY","v":11},{"x":"MET","y":"GLY","v":2},{"x":"PHE","y":"GLY","v":2},{"x":"PRO","y":"GLY","v":3},{"x":"SER","y":"GLY","v":17},{"x":"THR","y":"GLY","v":10},{"x":"TRP","y":"GLY","v":2},{"x":"TYR","y":"GLY","v":12},{"x":"VAL","y":"GLY","v":6},
{"x":"ALA","y":"GLU","v":17},{"x":"ARG","y":"GLU","v":78},{"x":"ASN","y":"GLU","v":30},{"x":"ASP","y":"GLU","v":55},{"x":"CYS","y":"GLU","v":2},{"x":"GLN","y":"GLU","v":17},{"x":"GLU","y":"GLU","v":24},{"x":"GLY","y":"GLU","v":24},{"x":"HIS","y":"GLU","v":9},{"x":"ILE","y":"GLU","v":6},{"x":"LEU","y":"GLU","v":25},{"x":"LYS","y":"GLU","v":63},{"x":"MET","y":"GLU","v":7},{"x":"PHE","y":"GLU","v":11},{"x":"PRO","y":"GLU","v":14},{"x":"SER","y":"GLU","v":42},{"x":"THR","y":"GLU","v":30},{"x":"TRP","y":"GLU","v":6},{"x":"TYR","y":"GLU","v":25},{"x":"VAL","y":"GLU","v":19},
{"x":"ALA","y":"GLN","v":5},{"x":"ARG","y":"GLN","v":24},{"x":"ASN","y":"GLN","v":19},{"x":"ASP","y":"GLN","v":20},{"x":"CYS","y":"GLN","v":0},{"x":"GLN","y":"GLN","v":6},{"x":"GLU","y":"GLN","v":18},{"x":"GLY","y":"GLN","v":10},{"x":"HIS","y":"GLN","v":0},{"x":"ILE","y":"GLN","v":3},{"x":"LEU","y":"GLN","v":7},{"x":"LYS","y":"GLN","v":6},{"x":"MET","y":"GLN","v":2},{"x":"PHE","y":"GLN","v":3},{"x":"PRO","y":"GLN","v":6},{"x":"SER","y":"GLN","v":13},{"x":"THR","y":"GLN","v":10},{"x":"TRP","y":"GLN","v":0},{"x":"TYR","y":"GLN","v":15},{"x":"VAL","y":"GLN","v":6},
{"x":"ALA","y":"CYS","v":0},{"x":"ARG","y":"CYS","v":3},{"x":"ASN","y":"CYS","v":0},{"x":"ASP","y":"CYS","v":0},{"x":"CYS","y":"CYS","v":0},{"x":"GLN","y":"CYS","v":0},{"x":"GLU","y":"CYS","v":1},{"x":"GLY","y":"CYS","v":0},{"x":"HIS","y":"CYS","v":0},{"x":"ILE","y":"CYS","v":0},{"x":"LEU","y":"CYS","v":1},{"x":"LYS","y":"CYS","v":1},{"x":"MET","y":"CYS","v":0},{"x":"PHE","y":"CYS","v":0},{"x":"PRO","y":"CYS","v":0},{"x":"SER","y":"CYS","v":0},{"x":"THR","y":"CYS","v":0},{"x":"TRP","y":"CYS","v":0},{"x":"TYR","y":"CYS","v":0},{"x":"VAL","y":"CYS","v":0},
{"x":"ALA","y":"ASP","v":17},{"x":"ARG","y":"ASP","v":100},{"x":"ASN","y":"ASP","v":32},{"x":"ASP","y":"ASP","v":28},{"x":"CYS","y":"ASP","v":2},{"x":"GLN","y":"ASP","v":23},{"x":"GLU","y":"ASP","v":56},{"x":"GLY","y":"ASP","v":25},{"x":"HIS","y":"ASP","v":15},{"x":"ILE","y":"ASP","v":7},{"x":"LEU","y":"ASP","v":25},{"x":"LYS","y":"ASP","v":68},{"x":"MET","y":"ASP","v":7},{"x":"PHE","y":"ASP","v":15},{"x":"PRO","y":"ASP","v":15},{"x":"SER","y":"ASP","v":33},{"x":"THR","y":"ASP","v":24},{"x":"TRP","y":"ASP","v":5},{"x":"TYR","y":"ASP","v":26},{"x":"VAL","y":"ASP","v":15},
{"x":"ALA","y":"ASN","v":7},{"x":"ARG","y":"ASN","v":30},{"x":"ASN","y":"ASN","v":13},{"x":"ASP","y":"ASN","v":33},{"x":"CYS","y":"ASN","v":0},{"x":"GLN","y":"ASN","v":19},{"x":"GLU","y":"ASN","v":33},{"x":"GLY","y":"ASN","v":16},{"x":"HIS","y":"ASN","v":4},{"x":"ILE","y":"ASN","v":5},{"x":"LEU","y":"ASN","v":5},{"x":"LYS","y":"ASN","v":17},{"x":"MET","y":"ASN","v":2},{"x":"PHE","y":"ASN","v":6},{"x":"PRO","y":"ASN","v":4},{"x":"SER","y":"ASN","v":14},{"x":"THR","y":"ASN","v":20},{"x":"TRP","y":"ASN","v":2},{"x":"TYR","y":"ASN","v":13},{"x":"VAL","y":"ASN","v":9},
{"x":"ALA","y":"ARG","v":14},{"x":"ARG","y":"ARG","v":13},{"x":"ASN","y":"ARG","v":27},{"x":"ASP","y":"ARG","v":100},{"x":"CYS","y":"ARG","v":3},{"x":"GLN","y":"ARG","v":26},{"x":"GLU","y":"ARG","v":80},{"x":"GLY","y":"ARG","v":27},{"x":"HIS","y":"ARG","v":5},{"x":"ILE","y":"ARG","v":12},{"x":"LEU","y":"ARG","v":24},{"x":"LYS","y":"ARG","v":14},{"x":"MET","y":"ARG","v":7},{"x":"PHE","y":"ARG","v":7},{"x":"PRO","y":"ARG","v":12},{"x":"SER","y":"ARG","v":26},{"x":"THR","y":"ARG","v":21},{"x":"TRP","y":"ARG","v":10},{"x":"TYR","y":"ARG","v":22},{"x":"VAL","y":"ARG","v":13},
{"x":"ALA","y":"ALA","v":0},{"x":"ARG","y":"ALA","v":17},{"x":"ASN","y":"ALA","v":7},{"x":"ASP","y":"ALA","v":12},{"x":"CYS","y":"ALA","v":0},{"x":"GLN","y":"ALA","v":4},{"x":"GLU","y":"ALA","v":19},{"x":"GLY","y":"ALA","v":4},{"x":"HIS","y":"ALA","v":0},{"x":"ILE","y":"ALA","v":0},{"x":"LEU","y":"ALA","v":2},{"x":"LYS","y":"ALA","v":6},{"x":"MET","y":"ALA","v":0},{"x":"PHE","y":"ALA","v":0},{"x":"PRO","y":"ALA","v":1},{"x":"SER","y":"ALA","v":4},{"x":"THR","y":"ALA","v":4},{"x":"TRP","y":"ALA","v":0},{"x":"TYR","y":"ALA","v":2},{"x":"VAL","y":"ALA","v":1}
],"d":[
{"x":"ALA","y":"VAL","v":32},{"x":"ARG","y":"VAL","v":37},{"x":"ASN","y":"VAL","v":20},{"x":"ASP","y":"VAL","v":58},{"x":"CYS","y":"VAL","v":0},{"x":"GLN","y":"VAL","v":20},{"x":"GLU","y":"VAL","v":61},{"x":"GLY","y":"VAL","v":26},{"x":"HIS","y":"VAL","v":7},{"x":"ILE","y":"VAL","v":25},{"x":"LEU","y":"VAL","v":50},{"x":"LYS","y":"VAL","v":29},{"x":"MET","y":"VAL","v":12},{"x":"PHE","y":"VAL","v":8},{"x":"PRO","y":"VAL","v":29},{"x":"SER","y":"VAL","v":32},{"x":"THR","y":"VAL","v":40},{"x":"TRP","y":"VAL","v":1},{"x":"TYR","y":"VAL","v":17},{"x":"VAL","y":"VAL","v":13},
{"x":"ALA","y":"TYR","v":20},{"x":"ARG","y":"TYR","v":24},{"x":"ASN","y":"TYR","v":15},{"x":"ASP","y":"TYR","v":29},{"x":"CYS","y":"TYR","v":0},{"x":"GLN","y":"TYR","v":16},{"x":"GLU","y":"TYR","v":24},{"x":"GLY","y":"TYR","v":18},{"x":"HIS","y":"TYR","v":5},{"x":"ILE","y":"TYR","v":17},{"x":"LEU","y":"TYR","v":25},{"x":"LYS","y":"TYR","v":17},{"x":"MET","y":"TYR","v":9},{"x":"PHE","y":"TYR","v":5},{"x":"PRO","y":"TYR","v":20},{"x":"SER","y":"TYR","v":17},{"x":"THR","y":"TYR","v":15},{"x":"TRP","y":"TYR","v":3},{"x":"TYR","y":"TYR","v":0},{"x":"VAL","y":"TYR","v":14},
{"x":"ALA","y":"TRP","v":5},{"x":"ARG","y":"TRP","v":8},{"x":"ASN","y":"TRP","v":5},{"x":"ASP","y":"TRP","v":5},{"x":"CYS","y":"TRP","v":0},{"x":"GLN","y":"TRP","v":4},{"x":"GLU","y":"TRP","v":6},{"x":"GLY","y":"TRP","v":7},{"x":"HIS","y":"TRP","v":0},{"x":"ILE","y":"TRP","v":4},{"x":"LEU","y":"TRP","v":7},{"x":"LYS","y":"TRP","v":3},{"x":"MET","y":"TRP","v":2},{"x":"PHE","y":"TRP","v":1},{"x":"PRO","y":"TRP","v":8},{"x":"SER","y":"TRP","v":5},{"x":"THR","y":"TRP","v":6},{"x":"TRP","y":"TRP","v":0},{"x":"TYR","y":"TRP","v":2},{"x":"VAL","y":"TRP","v":2},
{"x":"ALA","y":"THR","v":41},{"x":"ARG","y":"THR","v":37},{"x":"ASN","y":"THR","v":33},{"x":"ASP","y":"THR","v":58},{"x":"CYS","y":"THR","v":0},{"x":"GLN","y":"THR","v":32},{"x":"GLU","y":"THR","v":60},{"x":"GLY","y":"THR","v":33},{"x":"HIS","y":"THR","v":8},{"x":"ILE","y":"THR","v":33},{"x":"LEU","y":"THR","v":46},{"x":"LYS","y":"THR","v":33},{"x":"MET","y":"THR","v":12},{"x":"PHE","y":"THR","v":11},{"x":"PRO","y":"THR","v":33},{"x":"SER","y":"THR","v":29},{"x":"THR","y":"THR","v":19},{"x":"TRP","y":"THR","v":2},{"x":"TYR","y":"THR","v":16},{"x":"VAL","y":"THR","v":38},
{"x":"ALA","y":"SER","v":33},{"x":"ARG","y":"SER","v":38},{"x":"ASN","y":"SER","v":25},{"x":"ASP","y":"SER","v":58},{"x":"CYS","y":"SER","v":0},{"x":"GLN","y":"SER","v":24},{"x":"GLU","y":"SER","v":58},{"x":"GLY","y":"SER","v":32},{"x":"HIS","y":"SER","v":10},{"x":"ILE","y":"SER","v":17},{"x":"LEU","y":"SER","v":54},{"x":"LYS","y":"SER","v":27},{"x":"MET","y":"SER","v":9},{"x":"PHE","y":"SER","v":5},{"x":"PRO","y":"SER","v":33},{"x":"SER","y":"SER","v":13},{"x":"THR","y":"SER","v":30},{"x":"TRP","y":"SER","v":4},{"x":"TYR","y":"SER","v":15},{"x":"VAL","y":"SER","v":33},
{"x":"ALA","y":"PRO","v":32},{"x":"ARG","y":"PRO","v":33},{"x":"ASN","y":"PRO","v":30},{"x":"ASP","y":"PRO","v":58},{"x":"CYS","y":"PRO","v":0},{"x":"GLN","y":"PRO","v":28},{"x":"GLU","y":"PRO","v":47},{"x":"GLY","y":"PRO","v":32},{"x":"HIS","y":"PRO","v":11},{"x":"ILE","y":"PRO","v":24},{"x":"LEU","y":"PRO","v":49},{"x":"LYS","y":"PRO","v":25},{"x":"MET","y":"PRO","v":13},{"x":"PHE","y":"PRO","v":10},{"x":"PRO","y":"PRO","v":11},{"x":"SER","y":"PRO","v":33},{"x":"THR","y":"PRO","v":33},{"x":"TRP","y":"PRO","v":7},{"x":"TYR","y":"PRO","v":20},{"x":"VAL","y":"PRO","v":29},
{"x":"ALA","y":"PHE","v":10},{"x":"ARG","y":"PHE","v":9},{"x":"ASN","y":"PHE","v":7},{"x":"ASP","y":"PHE","v":15},{"x":"CYS","y":"PHE","v":0},{"x":"GLN","y":"PHE","v":7},{"x":"GLU","y":"PHE","v":14},{"x":"GLY","y":"PHE","v":8},{"x":"HIS","y":"PHE","v":3},{"x":"ILE","y":"PHE","v":10},{"x":"LEU","y":"PHE","v":14},{"x":"LYS","y":"PHE","v":5},{"x":"MET","y":"PHE","v":4},{"x":"PHE","y":"PHE","v":0},{"x":"PRO","y":"PHE","v":8},{"x":"SER","y":"PHE","v":5},{"x":"THR","y":"PHE","v":7},{"x":"TRP","y":"PHE","v":0},{"x":"TYR","y":"PHE","v":2},{"x":"VAL","y":"PHE","v":4},
{"x":"ALA","y":"MET","v":15},{"x":"ARG","y":"MET","v":17},{"x":"ASN","y":"MET","v":8},{"x":"ASP","y":"MET","v":14},{"x":"CYS","y":"MET","v":0},{"x":"GLN","y":"MET","v":8},{"x":"GLU","y":"MET","v":25},{"x":"GLY","y":"MET","v":8},{"x":"HIS","y":"MET","v":3},{"x":"ILE","y":"MET","v":9},{"x":"LEU","y":"MET","v":17},{"x":"LYS","y":"MET","v":8},{"x":"MET","y":"MET","v":0},{"x":"PHE","y":"MET","v":3},{"x":"PRO","y":"MET","v":10},{"x":"SER","y":"MET","v":8},{"x":"THR","y":"MET","v":11},{"x":"TRP","y":"MET","v":0},{"x":"TYR","y":"MET","v":7},{"x":"VAL","y":"MET","v":5},
{"x":"ALA","y":"LYS","v":25},{"x":"ARG","y":"LYS","v":18},{"x":"ASN","y":"LYS","v":22},{"x":"ASP","y":"LYS","v":85},{"x":"CYS","y":"LYS","v":0},{"x":"GLN","y":"LYS","v":15},{"x":"GLU","y":"LYS","v":80},{"x":"GLY","y":"LYS","v":24},{"x":"HIS","y":"LYS","v":5},{"x":"ILE","y":"LYS","v":18},{"x":"LEU","y":"LYS","v":45},{"x":"LYS","y":"LYS","v":4},{"x":"MET","y":"LYS","v":7},{"x":"PHE","y":"LYS","v":5},{"x":"PRO","y":"LYS","v":24},{"x":"SER","y":"LYS","v":28},{"x":"THR","y":"LYS","v":32},{"x":"TRP","y":"LYS","v":4},{"x":"TYR","y":"LYS","v":15},{"x":"VAL","y":"LYS","v":31},
{"x":"ALA","y":"LEU","v":54},{"x":"ARG","y":"LEU","v":57},{"x":"ASN","y":"LEU","v":32},{"x":"ASP","y":"LEU","v":70},{"x":"CYS","y":"LEU","v":2},{"x":"GLN","y":"LEU","v":40},{"x":"GLU","y":"LEU","v":65},{"x":"GLY","y":"LEU","v":37},{"x":"HIS","y":"LEU","v":9},{"x":"ILE","y":"LEU","v":38},{"x":"LEU","y":"LEU","v":35},{"x":"LYS","y":"LEU","v":45},{"x":"MET","y":"LEU","v":18},{"x":"PHE","y":"LEU","v":13},{"x":"PRO","y":"LEU","v":49},{"x":"SER","y":"LEU","v":54},{"x":"THR","y":"LEU","v":46},{"x":"TRP","y":"LEU","v":10},{"x":"TYR","y":"LEU","v":25},{"x":"VAL","y":"LEU","v":50},
{"x":"ALA","y":"ILE","v":21},{"x":"ARG","y":"ILE","v":30},{"x":"ASN","y":"ILE","v":25},{"x":"ASP","y":"ILE","v":32},{"x":"CYS","y":"ILE","v":0},{"x":"GLN","y":"ILE","v":18},{"x":"GLU","y":"ILE","v":33},{"x":"GLY","y":"ILE","v":20},{"x":"HIS","y":"ILE","v":6},{"x":"ILE","y":"ILE","v":14},{"x":"LEU","y":"ILE","v":38},{"x":"LYS","y":"ILE","v":20},{"x":"MET","y":"ILE","v":9},{"x":"PHE","y":"ILE","v":7},{"x":"PRO","y":"ILE","v":24},{"x":"SER","y":"ILE","v":17},{"x":"THR","y":"ILE","v":35},{"x":"TRP","y":"ILE","v":3},{"x":"TYR","y":"ILE","v":13},{"x":"VAL","y":"ILE","v":21},
{"x":"ALA","y":"HIS","v":5},{"x":"ARG","y":"HIS","v":6},{"x":"ASN","y":"HIS","v":4},{"x":"ASP","y":"HIS","v":15},{"x":"CYS","y":"HIS","v":0},{"x":"GLN","y":"HIS","v":2},{"x":"GLU","y":"HIS","v":13},{"x":"GLY","y":"HIS","v":6},{"x":"HIS","y":"HIS","v":0},{"x":"ILE","y":"HIS","v":8},{"x":"LEU","y":"HIS","v":7},{"x":"LYS","y":"HIS","v":5},{"x":"MET","y":"HIS","v":4},{"x":"PHE","y":"HIS","v":2},{"x":"PRO","y":"HIS","v":8},{"x":"SER","y":"HIS","v":6},{"x":"THR","y":"HIS","v":7},{"x":"TRP","y":"HIS","v":0},{"x":"TYR","y":"HIS","v":2},{"x":"VAL","y":"HIS","v":5},
{"x":"ALA","y":"GLY","v":35},{"x":"ARG","y":"GLY","v":35},{"x":"ASN","y":"GLY","v":30},{"x":"ASP","y":"GLY","v":48},{"x":"CYS","y":"GLY","v":3},{"x":"GLN","y":"GLY","v":24},{"x":"GLU","y":"GLY","v":40},{"x":"GLY","y":"GLY","v":16},{"x":"HIS","y":"GLY","v":7},{"x":"ILE","y":"GLY","v":19},{"x":"LEU","y":"GLY","v":40},{"x":"LYS","y":"GLY","v":25},{"x":"MET","y":"GLY","v":11},{"x":"PHE","y":"GLY","v":7},{"x":"PRO","y":"GLY","v":31},{"x":"SER","y":"GLY","v":32},{"x":"THR","y":"GLY","v":32},{"x":"TRP","y":"GLY","v":5},{"x":"TYR","y":"GLY","v":16},{"x":"VAL","y":"GLY","v":25},
{"x":"ALA","y":"GLU","v":54},{"x":"ARG","y":"GLU","v":88},{"x":"ASN","y":"GLU","v":38},{"x":"ASP","y":"GLU","v":65},{"x":"CYS","y":"GLU","v":3},{"x":"GLN","y":"GLU","v":33},{"x":"GLU","y":"GLU","v":29},{"x":"GLY","y":"GLU","v":40},{"x":"HIS","y":"GLU","v":12},{"x":"ILE","y":"GLU","v":32},{"x":"LEU","y":"GLU","v":65},{"x":"LYS","y":"GLU","v":82},{"x":"MET","y":"GLU","v":23},{"x":"PHE","y":"GLU","v":15},{"x":"PRO","y":"GLU","v":47},{"x":"SER","y":"GLU","v":58},{"x":"THR","y":"GLU","v":58},{"x":"TRP","y":"GLU","v":6},{"x":"TYR","y":"GLU","v":24},{"x":"VAL","y":"GLU","v":60},
{"x":"ALA","y":"GLN","v":26},{"x":"ARG","y":"GLN","v":26},{"x":"ASN","y":"GLN","v":22},{"x":"ASP","y":"GLN","v":34},{"x":"CYS","y":"GLN","v":0},{"x":"GLN","y":"GLN","v":8},{"x":"GLU","y":"GLN","v":30},{"x":"GLY","y":"GLN","v":22},{"x":"HIS","y":"GLN","v":3},{"x":"ILE","y":"GLN","v":18},{"x":"LEU","y":"GLN","v":42},{"x":"LYS","y":"GLN","v":13},{"x":"MET","y":"GLN","v":8},{"x":"PHE","y":"GLN","v":5},{"x":"PRO","y":"GLN","v":25},{"x":"SER","y":"GLN","v":23},{"x":"THR","y":"GLN","v":30},{"x":"TRP","y":"GLN","v":3},{"x":"TYR","y":"GLN","v":14},{"x":"VAL","y":"GLN","v":18},
{"x":"ALA","y":"CYS","v":0},{"x":"ARG","y":"CYS","v":0},{"x":"ASN","y":"CYS","v":0},{"x":"ASP","y":"CYS","v":2},{"x":"CYS","y":"CYS","v":0},{"x":"GLN","y":"CYS","v":0},{"x":"GLU","y":"CYS","v":1},{"x":"GLY","y":"CYS","v":2},{"x":"HIS","y":"CYS","v":0},{"x":"ILE","y":"CYS","v":0},{"x":"LEU","y":"CYS","v":1},{"x":"LYS","y":"CYS","v":1},{"x":"MET","y":"CYS","v":0},{"x":"PHE","y":"CYS","v":0},{"x":"PRO","y":"CYS","v":0},{"x":"SER","y":"CYS","v":1},{"x":"THR","y":"CYS","v":1},{"x":"TRP","y":"CYS","v":0},{"x":"TYR","y":"CYS","v":0},{"x":"VAL","y":"CYS","v":0},
{"x":"ALA","y":"ASP","v":60},{"x":"ARG","y":"ASP","v":100},{"x":"ASN","y":"ASP","v":40},{"x":"ASP","y":"ASP","v":33},{"x":"CYS","y":"ASP","v":4},{"x":"GLN","y":"ASP","v":35},{"x":"GLU","y":"ASP","v":66},{"x":"GLY","y":"ASP","v":47},{"x":"HIS","y":"ASP","v":14},{"x":"ILE","y":"ASP","v":33},{"x":"LEU","y":"ASP","v":68},{"x":"LYS","y":"ASP","v":88},{"x":"MET","y":"ASP","v":15},{"x":"PHE","y":"ASP","v":16},{"x":"PRO","y":"ASP","v":58},{"x":"SER","y":"ASP","v":58},{"x":"THR","y":"ASP","v":56},{"x":"TRP","y":"ASP","v":4},{"x":"TYR","y":"ASP","v":25},{"x":"VAL","y":"ASP","v":58},
{"x":"ALA","y":"ASN","v":32},{"x":"ARG","y":"ASN","v":25},{"x":"ASN","y":"ASN","v":12},{"x":"ASP","y":"ASN","v":42},{"x":"CYS","y":"ASN","v":0},{"x":"GLN","y":"ASN","v":25},{"x":"GLU","y":"ASN","v":40},{"x":"GLY","y":"ASN","v":30},{"x":"HIS","y":"ASN","v":7},{"x":"ILE","y":"ASN","v":24},{"x":"LEU","y":"ASN","v":28},{"x":"LYS","y":"ASN","v":24},{"x":"MET","y":"ASN","v":7},{"x":"PHE","y":"ASN","v":5},{"x":"PRO","y":"ASN","v":33},{"x":"SER","y":"ASN","v":30},{"x":"THR","y":"ASN","v":35},{"x":"TRP","y":"ASN","v":3},{"x":"TYR","y":"ASN","v":13},{"x":"VAL","y":"ASN","v":17},
{"x":"ALA","y":"ARG","v":29},{"x":"ARG","y":"ARG","v":13},{"x":"ASN","y":"ARG","v":25},{"x":"ASP","y":"ARG","v":100},{"x":"CYS","y":"ARG","v":3},{"x":"GLN","y":"ARG","v":30},{"x":"GLU","y":"ARG","v":88},{"x":"GLY","y":"ARG","v":35},{"x":"HIS","y":"ARG","v":7},{"x":"ILE","y":"ARG","v":26},{"x":"LEU","y":"ARG","v":57},{"x":"LYS","y":"ARG","v":20},{"x":"MET","y":"ARG","v":20},{"x":"PHE","y":"ARG","v":10},{"x":"PRO","y":"ARG","v":34},{"x":"SER","y":"ARG","v":39},{"x":"THR","y":"ARG","v":38},{"x":"TRP","y":"ARG","v":5},{"x":"TYR","y":"ARG","v":23},{"x":"VAL","y":"ARG","v":30},
{"x":"ALA","y":"ALA","v":16},{"x":"ARG","y":"ALA","v":27},{"x":"ASN","y":"ALA","v":32},{"x":"ASP","y":"ALA","v":60},{"x":"CYS","y":"ALA","v":0},{"x":"GLN","y":"ALA","v":25},{"x":"GLU","y":"ALA","v":53},{"x":"GLY","y":"ALA","v":35},{"x":"HIS","y":"ALA","v":7},{"x":"ILE","y":"ALA","v":26},{"x":"LEU","y":"ALA","v":54},{"x":"LYS","y":"ALA","v":25},{"x":"MET","y":"ALA","v":13},{"x":"PHE","y":"ALA","v":10},{"x":"PRO","y":"ALA","v":32},{"x":"SER","y":"ALA","v":36},{"x":"THR","y":"ALA","v":41},{"x":"TRP","y":"ALA","v":3},{"x":"TYR","y":"ALA","v":25},{"x":"VAL","y":"ALA","v":35}
]},"bounds":"flush","spacing":33,"vconcat":[{"width":931,"height":35,"data":{"values":[{"s":0,"e":1,"v":0},{"s":1,"e":2,"v":2},{"s":2,"e":3,"v":3},{"s":3,"e":4,"v":5},{"s":4,"e":5,"v":7},{"s":5,"e":6,"v":8},{"s":6,"e":7,"v":10},{"s":7,"e":8,"v":12},{"s":8,"e":9,"v":14},{"s":9,"e":10,"v":15},{"s":10,"e":11,"v":17},{"s":11,"e":12,"v":19},{"s":12,"e":13,"v":20},{"s":13,"e":14,"v":22},{"s":14,"e":15,"v":24},{"s":15,"e":16,"v":25},{"s":16,"e":17,"v":27},{"s":17,"e":18,"v":29},{"s":18,"e":19,"v":31},{"s":19,"e":20,"v":32},{"s":20,"e":21,"v":34},{"s":21,"e":22,"v":36},{"s":22,"e":23,"v":37},{"s":23,"e":24,"v":39},{"s":24,"e":25,"v":41},{"s":25,"e":26,"v":42},{"s":26,"e":27,"v":44},{"s":27,"e":28,"v":46},{"s":28,"e":29,"v":47},{"s":29,"e":30,"v":49},{"s":30,"e":31,"v":51},{"s":31,"e":32,"v":53},{"s":32,"e":33,"v":54},{"s":33,"e":34,"v":56},{"s":34,"e":35,"v":58},{"s":35,"e":36,"v":59},{"s":36,"e":37,"v":61},{"s":37,"e":38,"v":63},{"s":38,"e":39,"v":64},{"s":39,"e":40,"v":66},{"s":40,"e":41,"v":68},{"s":41,"e":42,"v":69},{"s":42,"e":43,"v":71},{"s":43,"e":44,"v":73},{"s":44,"e":45,"v":75},{"s":45,"e":46,"v":76},{"s":46,"e":47,"v":78},{"s":47,"e":48,"v":80},{"s":48,"e":49,"v":81},{"s":49,"e":50,"v":83},{"s":50,"e":51,"v":85},{"s":51,"e":52,"v":86},{"s":52,"e":53,"v":88},{"s":53,"e":54,"v":90},{"s":54,"e":55,"v":92},{"s":55,"e":56,"v":93},{"s":56,"e":57,"v":95},{"s":57,"e":58,"v":97},{"s":58,"e":59,"v":98},{"s":59,"e":60,"v":100}]},"layer":[{"mark":{"type":"rect"},"encoding":{"x":{"field":"s","type":"quantitative","scale":{"domain":[-15.22,75],"nice":false,"zero":false},"axis":null},"x2":{"field":"e"},"color":{"field":"v","type":"quantitative","scale":{"domain":[0,50,100],"range":["#ff0000","#ffffff","#0000ff"],"interpolate":"rgb"},"legend":null}}},{"data":{"values":[{"s":-4.17,"t":"Low"}]},"mark":{"type":"text","font":"Liberation Serif","fontSize":34,"color":"black","dy":0},"encoding":{"x":{"field":"s","type":"quantitative","scale":{"domain":[-15.22,75],"nice":false,"zero":false},"axis":null},"text":{"field":"t"}}},{"data":{"values":[{"s":63.76,"t":"High"}]},"mark":{"type":"text","font":"Liberation Serif","fontSize":34,"color":"black","dy":3},"encoding":{"x":{"field":"s","type":"quantitative","scale":{"domain":[-15.22,75],"nice":false,"zero":false},"axis":null},"text":{"field":"t"}}}]},{"bounds":"flush","spacing":687,"hconcat":[{"bounds":"flush","spacing":267,"vconcat":[{"bounds":"flush","spacing":100,"hconcat":[{"data":{"name":"a"},"width":245,"height":246,"mark":{"type":"rect"},"encoding":{"x":{"field":"x","type":"nominal","sort":null,"scale":{"domain":["ALA","ARG","ASN","ASP","CYS","GLN","GLU","GLY","HIS","ILE","LEU","LYS","MET","PHE","PRO","SER","THR","TRP","TYR","VAL"],"paddingInner":0,"paddingOuter":0},"axis":{"title":"Relevance to neither","titleFont":"Liberation Serif","titleFontSize":34.6,"titleFontWeight":"normal","titleColor":"#000000","titlePadding":5,"titleX":126,"labelAngle":-90,"labelFont":"Liberation Sans","labelFontSize":8.5,"labelColor":"#444444","labelPadding":3,"domain":false,"ticks":false}},"y":{"field":"y","type":"nominal","scale":{"domain":["VAL","TYR","TRP","THR","SER","PRO","PHE","MET","LYS","LEU","ILE","HIS","GLY","GLU","GLN","CYS","ASP","ASN","ARG","ALA"],"range":[0,244],"paddingInner":0,"paddingOuter":0},"axis":{"orient":"right","title":null,"labelFont":"Liberation Sans","labelFontSize":8.5,"labelColor":"#444444","labelPadding":3,"domain":false,"ticks":false}},"color":{"field":"v","type":"quantitative","scale":{"domain":[0,50,100],"range":["#ff0000","#ffffff","#0000ff"],"interpolate":"rgb"},"legend":null}}},{"data":{"name":"b"},"width":245,"height":246,"mark":{"type":"rect"},"encoding":{"x":{"field":"x","type":"nominal","sort":null,"scale":{"domain":["ALA","ARG","ASN","ASP","CYS","GLN","GLU","GLY","HIS","ILE","LEU","LYS","MET","PHE","PRO","SER","THR","TRP","TYR","VAL"],"paddingInner":0,"paddingOuter":0},"axis":{"title":"Relevance to one","titleFont":"Liberation Serif","titleFontSize":34.4,"titleFontWeight":"normal","titleColor":"#000000","titlePadding":2,"titleX":124,"labelAngle":-90,"labelFont":"Liberation Sans","labelFontSize":8.5,"labelColor":"#444444","labelPadding":3,"domain":false,"ticks":false}},"y":{"field":"y","type":"nominal","scale":{"domain":["VAL","TYR","TRP","THR","SER","PRO","PHE","MET","LYS","LEU","ILE","HIS","GLY","GLU","GLN","CYS","ASP","ASN","ARG","ALA"],"range":[2,246],"paddingInner":0,"paddingOuter":0},"axis":{"orient":"right","title":null,"labelFont":"Liberation Sans","labelFontSize":8.5,"labelColor":"#444444","labelPadding":3,"domain":false,"ticks":false}},"color":{"field":"v","type":"quantitative","scale":{"domain":[0,50,100],"range":["#ff0000","#ffffff","#0000ff"],"interpolate":"rgb"},"legend":null}}}]},{"width":535,"height":226,"data":{"values":[{"t":"(b) Weighted Frequencies"}]},"mark":{"type":"text","font":"Liberation Serif","fontSize":50.6,"color":"black"},"encoding":{"text":{"field":"t"}}}]},{"bounds":"flush","spacing":71,"vconcat":[{"data":{"name":"c"},"width":245,"height":246,"mark":{"type":"rect"},"encoding":{"x":{"field":"x","type":"nominal","sort":null,"scale":{"domain":["ALA","ARG","ASN","ASP","CYS","GLN","GLU","GLY","HIS","ILE","LEU","LYS","MET","PHE","PRO","SER","THR","TRP","TYR","VAL"],"paddingInner":0,"paddingOuter":0},"axis":{"title":"Relevance to both","titleFont":"Liberation Serif","titleFontSize":34.4,"titleFontWeight":"normal","titleColor":"#000000","titlePadding":4,"titleX":124,"labelAngle":-90,"labelFont":"Liberation Sans","labelFontSize":8.5,"labelColor":"#444444","labelPadding":6,"domain":false,"ticks":false}},"y":{"field":"y","type":"nominal","scale":{"domain":["VAL","TYR","TRP","THR","SER","PRO","PHE","MET","LYS","LEU","ILE","HIS","GLY","GLU","GLN","CYS","ASP","ASN","ARG","ALA"],"range":[3,246],"paddingInner":0,"paddingOuter":0},"axis":{"orient":"right","title":null,"labelFont":"Liberation Sans","labelFontSize":8.5,"labelColor":"#444444","labelPadding":3,"domain":false,"ticks":false}},"color":{"field":"v","type":"quantitative","scale":{"domain":[0,50,100],"range":["#ff0000","#ffffff","#0000ff"],"interpolate":"rgb"},"legend":null}}},{"data":{"name":"d"},"width":245,"height":246,"mark":{"type":"rect"},"encoding":{"x":{"field":"x","type":"nominal","sort":null,"scale":{"domain":["ALA","ARG","ASN","ASP","CYS","GLN","GLU","GLY","HIS","ILE","LEU","LYS","MET","PHE","PRO","SER","THR","TRP","TYR","VAL"],"paddingInner":0,"paddingOuter":0},"axis":{"title":"Overall","titleFont":"Liberation Serif","titleFontSize":34,"titleFontWeight":"normal","titleColor":"#000000","titlePadding":2,"titleX":127,"labelAngle":-90,"labelFont":"Liberation Sans","labelFontSize":8.5,"labelColor":"#444444","labelPadding":1,"domain":false,"ticks":false}},"y":{"field":"y","type":"nominal","scale":{"domain":["VAL","TYR","TRP","THR","SER","PRO","PHE","MET","LYS","LEU","ILE","HIS","GLY","GLU","GLN","CYS","ASP","ASN","ARG","ALA"],"range":[0,244],"paddingInner":0,"paddingOuter":0},"axis":{"orient":"right","title":null,"labelFont":"Liberation Sans","labelFontSize":8.5,"labelColor":"#444444","labelPadding":3,"domain":false,"ticks":false}},"color":{"field":"v","type":"quantitative","scale":{"domain":[0,50,100],"range":["#ff0000","#ffffff","#0000ff"],"interpolate":"rgb"},"legend":null}}}]}]}]}
